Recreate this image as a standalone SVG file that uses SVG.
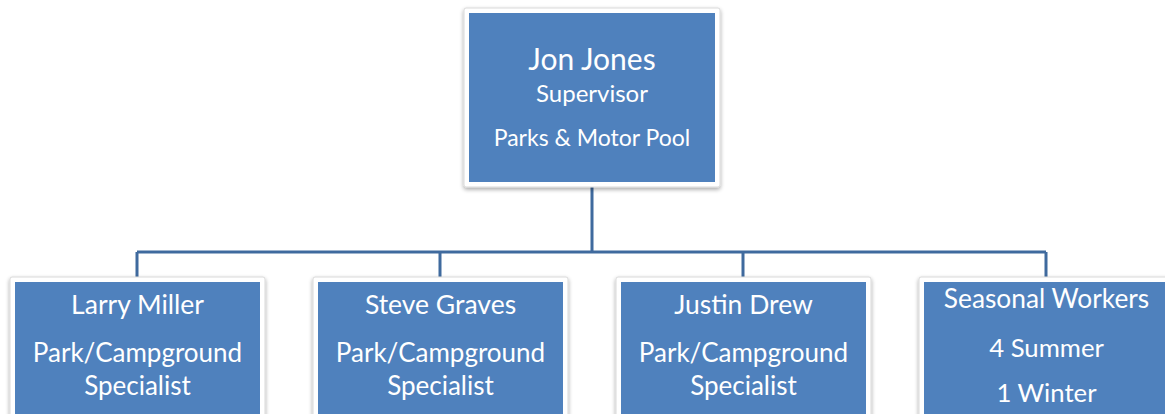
<svg xmlns="http://www.w3.org/2000/svg" width="1165" height="414" viewBox="0 0 1165 414">
<defs>
<filter id="sh" x="-10%" y="-10%" width="120%" height="130%">
<feGaussianBlur in="SourceAlpha" stdDeviation="2"/>
<feOffset dx="0" dy="2" result="b"/>
<feComponentTransfer><feFuncA type="linear" slope="0.35"/></feComponentTransfer>
<feMerge><feMergeNode/><feMergeNode in="SourceGraphic"/></feMerge>
</filter>
</defs>
<style>
.frame{fill:#ffffff;stroke:#d9d9d9;stroke-width:1;filter:url(#sh)}
.box{fill:#4f81bd}
.t{fill:#ffffff;font-family:Lato,"Open Sans",sans-serif;text-anchor:middle}
.con{fill:none;stroke:#3f6a9e;stroke-width:3}
</style>
<rect width="1165" height="414" fill="#ffffff"/>
<g id="connectors">
<path class="con" d="M592,187 V252 M137,252 H1046 M137,252 V278 M440,252 V278 M743,252 V278 M1046,252 V278"/>
</g>
<g id="n-jon">
<rect class="frame" x="464" y="8" width="256" height="179" rx="2"/>
<rect class="box" x="469" y="13" width="246" height="169"/>
<text class="t" x="592" y="70" font-size="30">Jon Jones</text>
<text class="t" x="592" y="102" font-size="24">Supervisor</text>
<text class="t" x="592" y="146" font-size="23">Parks &amp; Motor Pool</text>
</g>
<g id="n-larry">
<rect class="frame" x="10" y="277" width="255" height="150" rx="2"/>
<rect class="box" x="15" y="282" width="245" height="140"/>
<text class="t" x="137.5" y="314" font-size="26.5">Larry Miller</text>
<text class="t" x="137.5" y="362" font-size="26">Park/Campground</text>
<text class="t" x="137.5" y="395" font-size="26">Specialist</text>
</g>
<g id="n-steve">
<rect class="frame" x="313" y="277" width="255" height="150" rx="2"/>
<rect class="box" x="318" y="282" width="245" height="140"/>
<text class="t" x="440.5" y="314" font-size="26.5">Steve Graves</text>
<text class="t" x="440.5" y="362" font-size="26">Park/Campground</text>
<text class="t" x="440.5" y="395" font-size="26">Specialist</text>
</g>
<g id="n-justin">
<rect class="frame" x="616" y="277" width="255" height="150" rx="2"/>
<rect class="box" x="621" y="282" width="245" height="140"/>
<text class="t" x="743.5" y="314" font-size="26.5">Justin Drew</text>
<text class="t" x="743.5" y="362" font-size="26">Park/Campground</text>
<text class="t" x="743.5" y="395" font-size="26">Specialist</text>
</g>
<g id="n-seasonal">
<rect class="frame" x="919" y="277" width="255" height="150" rx="2"/>
<rect class="box" x="924" y="282" width="245" height="140"/>
<text class="t" x="1046.5" y="308" font-size="26.3">Seasonal Workers</text>
<text class="t" x="1046.5" y="357" font-size="25.7">4 Summer</text>
<text class="t" x="1046.5" y="402" font-size="25.7">1 Winter</text>
</g>
</svg>
